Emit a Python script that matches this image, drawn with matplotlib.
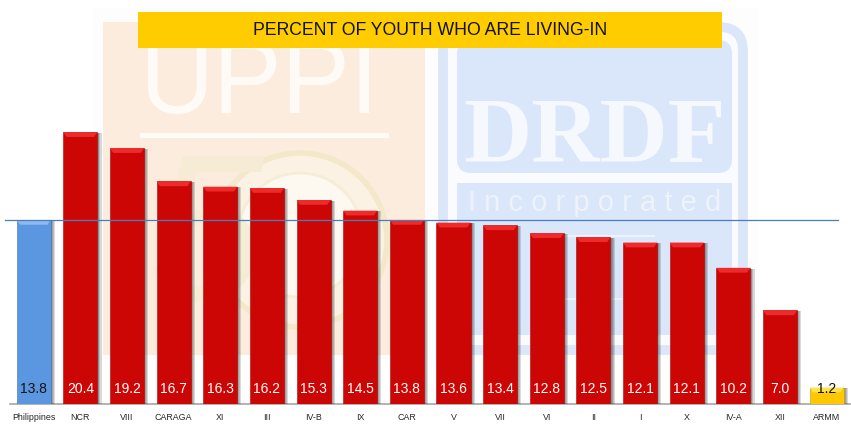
#!/usr/bin/env python3
import matplotlib as mpl
mpl.use('Agg')
from matplotlib import pyplot as plt
from matplotlib import patheffects as pe
from matplotlib.patches import Rectangle, FancyBboxPatch, Circle

plt.rcParams['font.family'] = ['Liberation Sans', 'DejaVu Sans']

regions = ['Philippines','NCR','VIII','CARAGA','XI','III','IV-B','IX','CAR','V','VII','VI','II','I','X','IV-A','XII','ARMM']
values  = [13.8,20.4,19.2,16.7,16.3,16.2,15.3,14.5,13.8,13.6,13.4,12.8,12.5,12.1,12.1,10.2,7.0,1.2]
title   = 'PERCENT OF YOUTH WHO ARE LIVING-IN'

W,H = 851,434
fig = plt.figure(figsize=(W/100,H/100),dpi=100)

# watermark + banner are drawn in pixel coords
bg = fig.add_axes([0,0,1,1])
bg.set_xlim(0,W)
bg.set_ylim(H,0)
bg.axis('off')

bg.add_patch(Rectangle((93,8),665,352,fc='#fdfdfd',ec='none'))

# UPPI half
bg.add_patch(Rectangle((103,22),322,333,fc='#fbecdd',ec='none'))
bg.text(259,87,'UPPI',color='#fefbf7',fontsize=74,ha='center',va='center')
bg.add_patch(Rectangle((140,133),249,4.5,fc='#fefbf7',ec='none'))
bg.text(205,245,'5',color='#f6ecd6',fontsize=150,ha='center',va='center',style='italic')
bg.add_patch(Circle((300,240),87,fc='#fbf2e3',ec='#f4e8cb',lw=4))
bg.add_patch(Circle((300,235),62,fc='#fdf9f1',ec='#f6edd6',lw=2))

# DRDF half
bg.add_patch(FancyBboxPatch((443,27),300,323,boxstyle='round,pad=0,rounding_size=24',fc='#f9fbfe',ec='#dbe6f8',lw=7))
bg.add_patch(FancyBboxPatch((457,40),275,133,boxstyle='round,pad=0,rounding_size=14',fc='#dae6f9',ec='none'))
bg.add_patch(Rectangle((457,183),275,152,fc='#dae6f9',ec='none'))
bg.text(595,139,'DRDF',color='#f5f8fd',fontsize=68,ha='center',va='center',family='Liberation Serif',weight='bold')
bg.text(595,203,'I n c o r p o r a t e d',color='#eef3fb',fontsize=21,ha='center',va='center')
bg.text(593,270,'S',color='#eef3fb',fontsize=42,ha='center',va='center',weight='bold')
bg.add_patch(Rectangle((565,235),90,2,fc='#eef3fb',ec='none'))
bg.add_patch(Rectangle((565,298),90,2,fc='#eef3fb',ec='none'))

bg.add_patch(Rectangle((138,12),584,36,fc='#ffcc00',ec='none',zorder=5))
bg.text(430,30.5,title,color='#111111',fontsize=12.7,ha='center',va='center',zorder=6)

# bar chart, baseline at y=403.5px, 46.65px per bar, 13.3px per percent
ax = fig.add_axes([10.4/W,(H-403.5)/H,839.6/W,303.5/H])
ax.set_xlim(-0.5,17.5)
ax.set_ylim(0,303.5/13.3)
ax.patch.set_alpha(0)
for sp in ['top','left','right']:
    ax.spines[sp].set_visible(False)
ax.spines['bottom'].set_color('#a6a6a6')
ax.spines['bottom'].set_linewidth(1.2)
ax.set_yticks([])
ax.set_xticks(range(len(regions)))
ax.set_xticklabels(regions,fontsize=6.4,color='#262626')
ax.tick_params(axis='x',length=0,pad=7)

width = 0.73
bevel = 0.36
# soft shadow on the right side of each bar
shadow = [pe.SimplePatchShadow(offset=(off,-0.5),shadow_rgbFace='#333333',alpha=0.18) for off in (3.0,2.2,1.5,0.8)]
shadow.append(pe.Normal())
for ii,(reg,val) in enumerate(zip(regions,values)):
    if reg == 'Philippines':
        face,top,edge,txt = '#5b96e0','#8db9ee','#3f6fa8','#111111'
    elif reg == 'ARMM':
        face,top,edge,txt = '#ffc800','#ffe14d','#b89a20','#111111'
    else:
        face,top,edge,txt = '#cc0505','#ee2a2a','#b00404','#ffffff'
    ax.bar(ii,val,width,color=face,edgecolor=edge,linewidth=0.4,path_effects=shadow,zorder=3)
    xl,xr = ii-width/2,ii+width/2
    ax.fill([xl,xr,xr-0.07,xl+0.07],[val,val,val-bevel,val-bevel],color=top,lw=0,zorder=4)
    ax.annotate('{:.1f}'.format(val),(ii,0),xytext=(0,10.6),textcoords='offset points',
                ha='center',va='center',fontsize=10,color=txt,zorder=6)

# national reference line
ax.axhline(values[0],xmin=(5-10.4)/839.6,xmax=(838-10.4)/839.6,color='#4a7ebb',lw=0.9,clip_on=False,zorder=10)

fig.savefig('out.png',dpi=100)
